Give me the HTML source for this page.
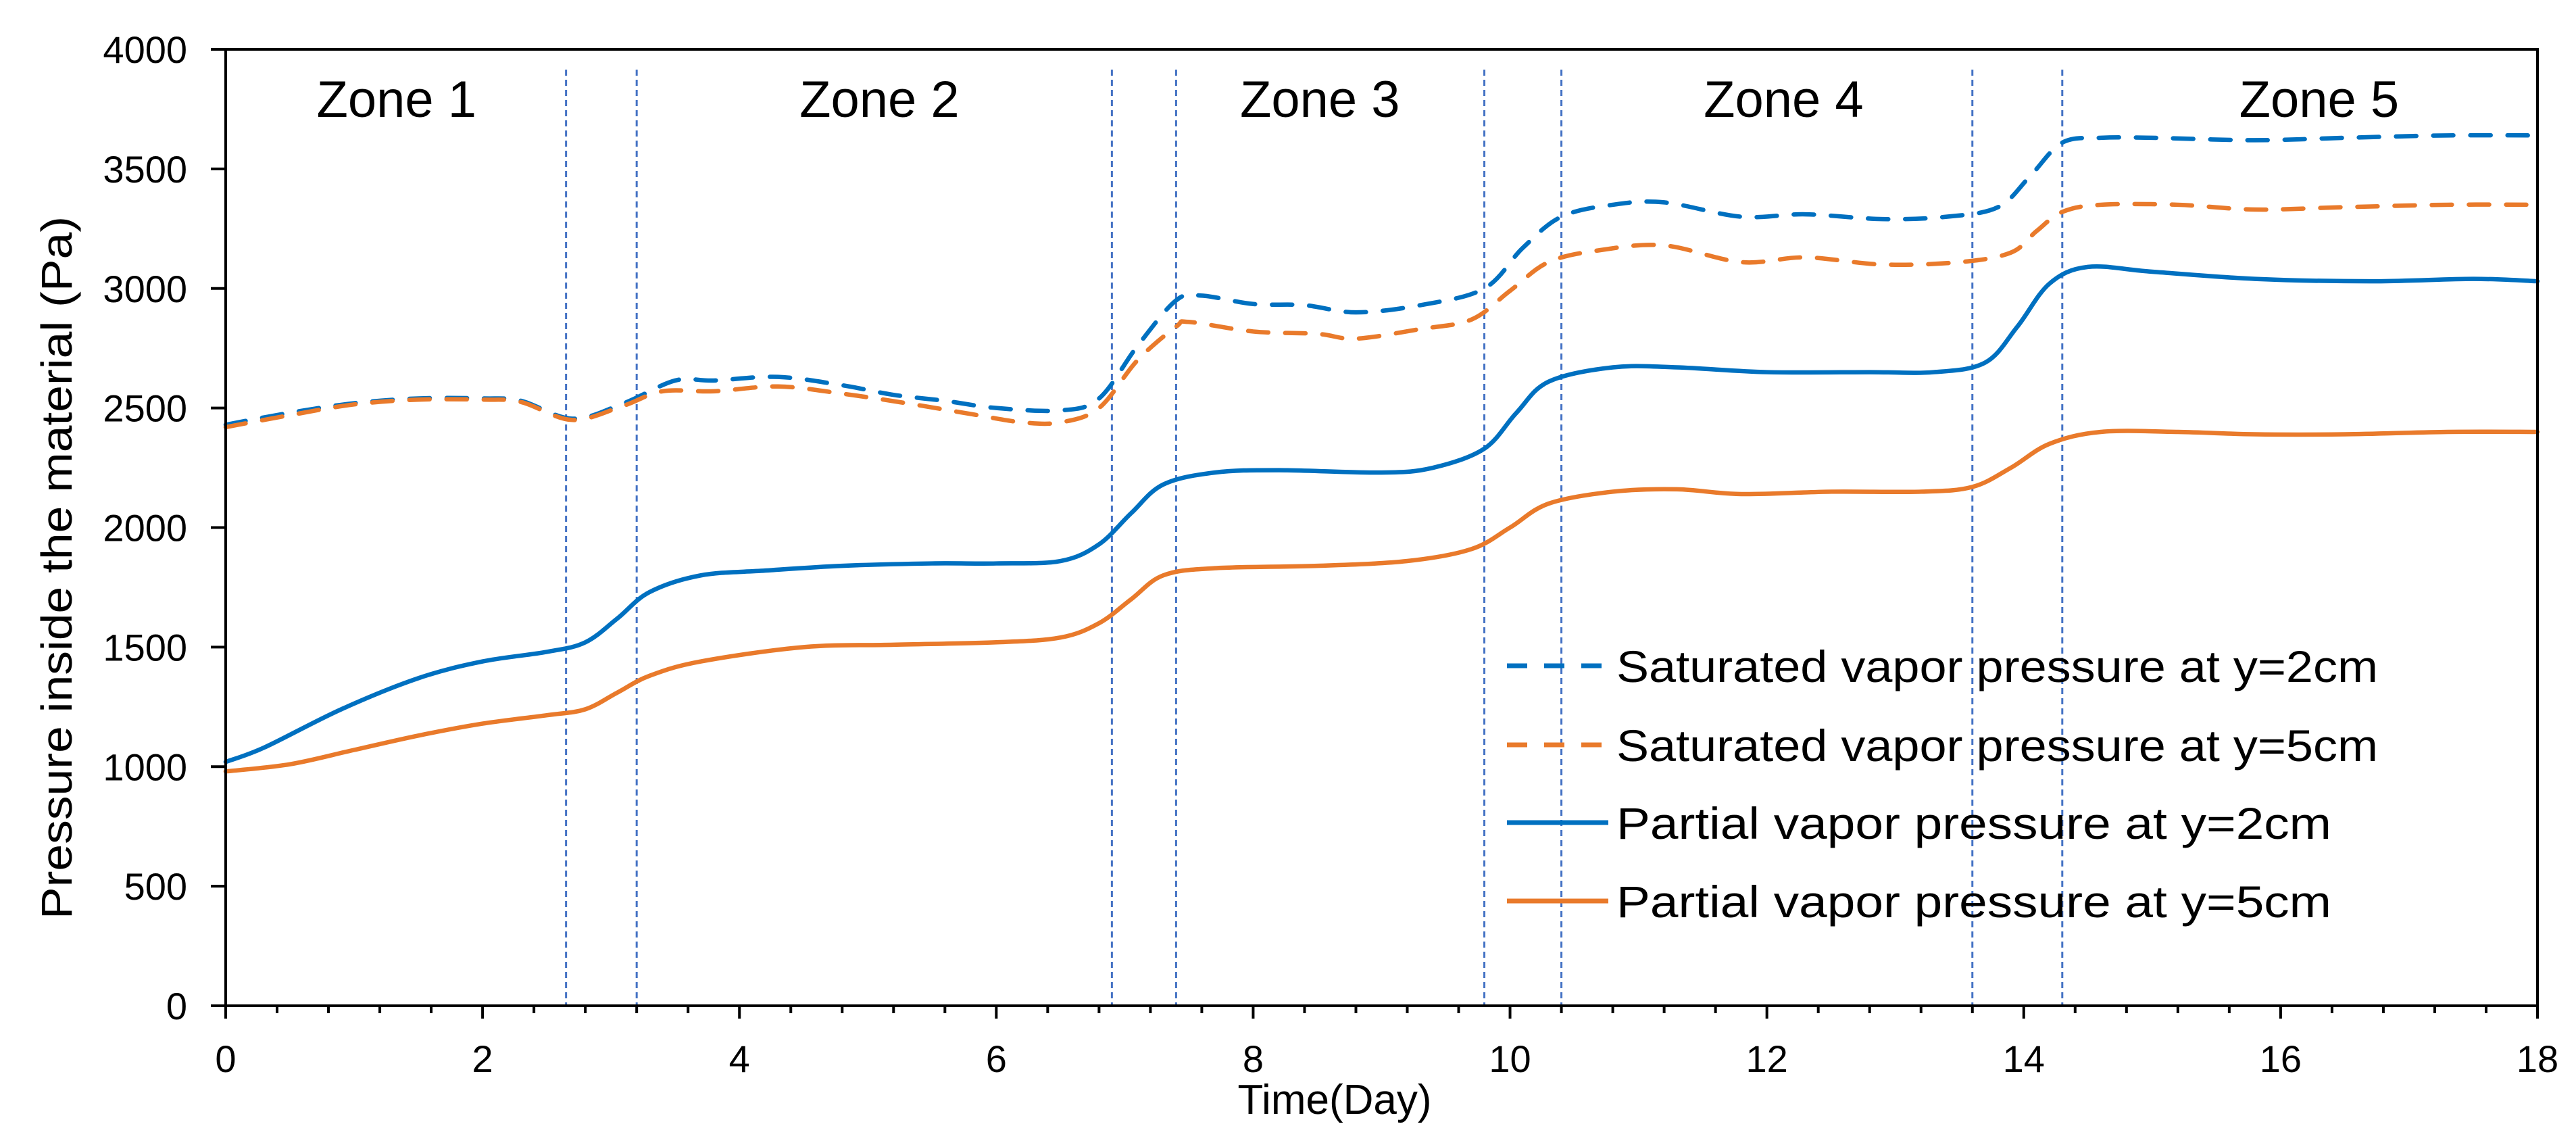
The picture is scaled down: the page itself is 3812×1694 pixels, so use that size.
<!DOCTYPE html>
<html><head><meta charset="utf-8"><style>
html,body{margin:0;padding:0;background:#fff;}
svg text{font-family:"Liberation Sans",sans-serif;fill:#000;}
</style></head><body>
<svg id="chart" width="3812" height="1689" viewBox="0 0 3812 1689" xmlns="http://www.w3.org/2000/svg">
<g id="zones"></g>
<g id="series"></g>
<g id="axes"></g>
<g id="legend"></g>
</svg>
<script>
const xTicks=[0,2,4,6,8,10,12,14,16,18];
const yTicks=[0,500,1000,1500,2000,2500,3000,3500,4000];
const zoneBounds=[2.65,3.2,6.9,7.4,9.8,10.4,13.6,14.3];
const zoneNames=["Zone 1","Zone 2","Zone 3","Zone 4","Zone 5"];
const zoneCenters=[1.33,5.09,8.52,12.13,16.3];
const satX2=[0,0.5,1,1.5,2,2.3,2.7,3.1,3.5,3.8,4.3,4.8,5.2,5.6,6,6.5,6.8,7.1,7.4,7.6,8,8.4,8.8,9.3,9.8,10.1,10.4,10.8,11.2,11.8,12.3,12.9,13.4,13.8,14.05,14.3,14.6,15,15.8,16.5,17.3,18];
const satY2=[2430,2480,2520,2540,2540,2530,2455,2520,2615,2615,2630,2595,2555,2530,2500,2490,2540,2760,2950,2970,2935,2930,2900,2930,3000,3170,3300,3350,3360,3300,3310,3290,3300,3340,3470,3610,3630,3630,3620,3630,3640,3640];
const satX5=[0,0.5,1,1.5,2,2.3,2.7,3.1,3.4,3.8,4.3,4.8,5.3,5.8,6.2,6.5,6.8,7.1,7.4,7.5,8,8.5,8.8,9.3,9.7,10,10.3,10.7,11.2,11.8,12.3,12.9,13.5,13.9,14.1,14.3,14.6,15.2,15.8,16.5,17.3,18];
const satY5=[2420,2470,2515,2535,2535,2525,2450,2510,2570,2570,2590,2560,2520,2475,2440,2440,2500,2700,2840,2860,2820,2810,2790,2830,2870,2990,3110,3160,3180,3110,3130,3100,3110,3150,3240,3320,3350,3350,3330,3340,3350,3350];
const parX2=[0,0.3,0.9,1.5,2,2.5,2.8,3.05,3.3,3.7,4.2,4.8,5.5,6,6.5,6.8,7.05,7.3,7.7,8.2,9,9.4,9.8,10.05,10.3,10.8,11.3,12,12.8,13.3,13.7,13.95,14.2,14.5,15,15.8,16.7,17.5,18];
const parY2=[1020,1080,1240,1370,1440,1480,1520,1620,1730,1800,1820,1840,1850,1850,1860,1930,2060,2180,2230,2240,2230,2250,2330,2480,2610,2670,2670,2650,2650,2650,2690,2840,3020,3090,3070,3040,3030,3040,3030];
const parX5=[0,0.5,1,1.5,2,2.5,2.8,3.05,3.3,3.7,4.5,5.2,6,6.5,6.8,7.05,7.3,7.7,8.5,9.2,9.7,10,10.3,10.8,11.3,11.8,12.5,13.2,13.6,13.9,14.2,14.6,15.2,15.8,16.5,17.3,18];
const parY5=[980,1010,1070,1130,1180,1215,1240,1310,1380,1440,1500,1510,1520,1540,1600,1700,1800,1830,1840,1860,1910,2000,2100,2150,2160,2140,2150,2150,2170,2250,2350,2400,2400,2390,2390,2400,2400];
const legendLabels=["Saturated vapor pressure at y=2cm","Saturated vapor pressure at y=5cm","Partial vapor pressure at y=2cm","Partial vapor pressure at y=5cm"];

const NS="http://www.w3.org/2000/svg";
const X0=334,X1=3755,Y0=1488,Y1=73;
const xs=v=>X0+(v-0)/(18-0)*(X1-X0);
const ys=v=>Y0-(v-0)/(4000-0)*(Y0-Y1);
const BLUE="#0070C0",ORANGE="#E97A2B";
function mk(tag,attrs,parent){const e=document.createElementNS(NS,tag);for(const k in attrs)e.setAttribute(k,attrs[k]);parent.appendChild(e);return e;}
const zones=document.getElementById('zones'),series=document.getElementById('series'),axes=document.getElementById('axes'),legend=document.getElementById('legend');

zoneBounds.forEach(d=>{
  const l=mk('line',{x1:xs(d),x2:xs(d),y1:103,y2:Y0,stroke:"#4472C4","stroke-width":3,"stroke-dasharray":"9,6"},zones);
  
  
});
zoneNames.forEach((n,i)=>{
  const t=mk('text',{x:xs(zoneCenters[i]),y:173,"font-size":76,"text-anchor":"middle"},zones);
  t.textContent=n;
  
  
});

function smooth(xa,ya){
  const p=xa.map((x,i)=>[xs(x),ys(ya[i])]);
  let d="M"+p[0][0]+","+p[0][1];
  for(let i=0;i<p.length-1;i++){
    const a=p[Math.max(i-1,0)],b=p[i],c=p[i+1],e=p[Math.min(i+2,p.length-1)];
    const c1=[b[0]+(c[0]-a[0])/6,b[1]+(c[1]-a[1])/6],c2=[c[0]-(e[0]-b[0])/6,c[1]-(e[1]-b[1])/6];
    d+=" C"+c1[0]+","+c1[1]+" "+c2[0]+","+c2[1]+" "+c[0]+","+c[1];
  }
  return d;
}
const defs=[[satX2,satY2,BLUE,"30,25","saturated-2cm-line"],[satX5,satY5,ORANGE,"30,25","saturated-5cm-line"],[parX2,parY2,BLUE,"","partial-2cm-line"],[parX5,parY5,ORANGE,"","partial-5cm-line"]];
defs.forEach(s=>{
  const a={d:smooth(s[0],s[1]),fill:"none",stroke:s[2],"stroke-width":6.5,"stroke-linecap":"round"};
  if(s[3])a["stroke-dasharray"]=s[3];
  const p=mk('path',a,series);
  
  
});

const frame=mk('rect',{x:X0,y:Y1,width:X1-X0,height:Y0-Y1,fill:"none",stroke:"#000","stroke-width":4},axes);


yTicks.forEach(v=>{
  const tk=mk('line',{x1:X0-22,x2:X0,y1:ys(v),y2:ys(v),stroke:"#000","stroke-width":4},axes);
  
  
  const t=mk('text',{x:277,y:ys(v)+20,"font-size":56,"text-anchor":"end"},axes);
  t.textContent=v;
  
  
});
for(let k=0;k<=45;k++){
  const v=k*0.4,major=(k%5===0);
  const tk=mk('line',{x1:xs(v),x2:xs(v),y1:Y0,y2:Y0+(major?19:11),stroke:"#000","stroke-width":4},axes);
  
  
}
xTicks.forEach(v=>{
  const t=mk('text',{x:xs(v),y:1586,"font-size":56,"text-anchor":"middle"},axes);
  t.textContent=v;
  
  
});
const xt=mk('text',{x:1975,y:1648,"font-size":62,"text-anchor":"middle"},axes);
xt.textContent="Time(Day)";


const yt=mk('text',{x:0,y:0,"font-size":64,"text-anchor":"middle",textLength:1040,lengthAdjust:"spacingAndGlyphs",transform:"translate(106,840) rotate(-90)"},axes);
yt.textContent="Pressure inside the material (Pa)";



const lc=[BLUE,ORANGE,BLUE,ORANGE],ld=["30,25","30,25","",""],ly=[985,1102,1217,1333],lw=[1127,1127,1058,1058];
legendLabels.forEach((lab,i)=>{
  const g=mk('g',{},legend);
  
  
  const a={x1:2230,x2:2380,y1:ly[i],y2:ly[i],stroke:lc[i],"stroke-width":7};
  if(ld[i])a["stroke-dasharray"]=ld[i];
  mk('line',a,g);
  const t=mk('text',{x:2392,y:ly[i]+24,"font-size":66,textLength:lw[i],lengthAdjust:"spacingAndGlyphs"},g);
  t.textContent=lab;
  
  
});
</script>
</body></html>
